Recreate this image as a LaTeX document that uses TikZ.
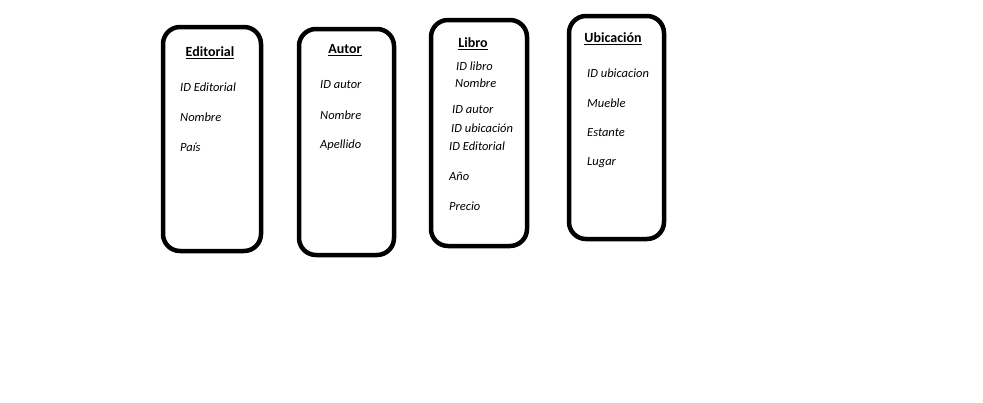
\documentclass[tikz,border=0pt]{standalone}
\usepackage{fontspec}
\setmainfont{Carlito}
\usetikzlibrary{positioning}

\begin{document}
\begin{tikzpicture}[x=1pt,y=-1pt]
	\tikzstyle{tabla}=[draw,line width=4.5pt,rounded corners=17pt,inner sep=0pt];
	\tikzstyle{titulo}=[font=\fontsize{14}{16}\selectfont\bfseries,inner sep=0pt];
	\tikzstyle{campo}=[font=\fontsize{12.5}{14}\selectfont\itshape,anchor=west,inner sep=0pt];
	\useasboundingbox (0,0) rectangle (983,402);
	% tablas
	\path (212,139)   node[tabla,minimum width=98pt,minimum height=224pt] (editorial) {};
	\path (346.5,142) node[tabla,minimum width=95pt,minimum height=226pt] (autor) {};
	\path (479,133)   node[tabla,minimum width=96pt,minimum height=226pt] (libro) {};
	\path (616.5,127.5) node[tabla,minimum width=95pt,minimum height=223pt] (ubicacion) {};
	% titulos
	\path (210,53)  node[titulo] (tEditorial) {\underline{Editorial}};
	\path (345,50)  node[titulo] (tAutor) {\underline{Autor}};
	\path (473,44)  node[titulo] (tLibro) {\underline{Libro}};
	\path (613,39)  node[titulo] (tUbicacion) {\underline{Ubicación}};
	% campos
	\path (180,87)  node[campo] (e1) {ID Editorial};
	\path (180,117) node[campo] (e2) {Nombre};
	\path (180,147) node[campo] (e3) {País};
	\path (320,85)  node[campo] (a1) {ID autor};
	\path (320,115) node[campo] (a2) {Nombre};
	\path (320,145) node[campo] (a3) {Apellido};
	\path (456,66)  node[campo] (l1) {ID libro};
	\path (455,83)  node[campo] (l2) {Nombre};
	\path (452,110) node[campo] (l3) {ID autor};
	\path (451,128) node[campo] (l4) {ID ubicación};
	\path (449,146) node[campo] (l5) {ID Editorial};
	\path (449,176) node[campo] (l6) {Año};
	\path (449,206) node[campo] (l7) {Precio};
	\path (587,73)  node[campo] (u1) {ID ubicacion};
	\path (587,103) node[campo] (u2) {Mueble};
	\path (587,133) node[campo] (u3) {Estante};
	\path (587,163) node[campo] (u4) {Lugar};
\end{tikzpicture}
\end{document}
